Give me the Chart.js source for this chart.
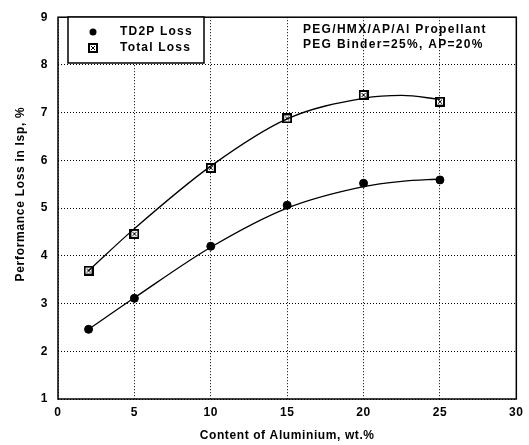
<!DOCTYPE html>
<html>
<head>
<meta charset="utf-8">
<script src="https://cdn.jsdelivr.net/npm/chart.js@4.4.1/dist/chart.umd.min.js"></script>
<style>
html,body{margin:0;padding:0;background:#fff;}
#wrap{width:529px;height:445px;position:relative;}
</style>
</head>
<body>
<div id="wrap"><canvas id="c" width="529" height="445"></canvas></div>
<script>
// Measured points
const aluminium = [2, 5, 10, 15, 20, 25];
const td2pLoss = [2.46, 3.11, 4.20, 5.06, 5.52, 5.59];
const totalLoss = [3.69, 4.46, 5.84, 6.88, 7.37, 7.23];
// Fitted curves
const fitX = [2, 5, 10, 15, 20, 22.5, 25];
const td2pFit = [2.46, 3.12, 4.18, 5.00, 5.45, 5.56, 5.61];
const totalFit = [3.69, 4.57, 5.88, 6.87, 7.30, 7.36, 7.28];
// Axis ticks
const xTicks = [0, 5, 10, 15, 20, 25, 30];
const yTicks = [1, 2, 3, 4, 5, 6, 7, 8, 9];
const seriesLabels = ['TD2P Loss', 'Total Loss'];
const noteLines = ['PEG/HMX/AP/Al Propellant', 'PEG Binder=25%, AP=20%'];
const xTitle = 'Content of Aluminium, wt.%';
const yTitle = 'Performance Loss in Isp, %';

const FONT = '"Liberation Sans", Arial, sans-serif';

function makeBoxMarker() {
  const s = 10;
  const cv = document.createElement('canvas');
  cv.width = s; cv.height = s;
  const g = cv.getContext('2d');
  g.fillStyle = '#fff';
  g.fillRect(0, 0, s, s);
  g.strokeStyle = '#000';
  g.lineWidth = 2;
  g.strokeRect(1, 1, s - 2, s - 2);
  g.lineWidth = 1;
  g.beginPath();
  g.moveTo(3, 3); g.lineTo(7, 7);
  g.moveTo(7, 3); g.lineTo(3, 7);
  g.stroke();
  return cv;
}
const boxMarker = makeBoxMarker();

const pts = (xs, ys) => xs.map((x, i) => ({x: x, y: ys[i]}));

const bgPlugin = {
  id: 'bg',
  beforeDraw(chart) {
    const ctx = chart.ctx;
    ctx.save();
    ctx.fillStyle = '#fff';
    ctx.fillRect(0, 0, chart.width, chart.height);
    ctx.restore();
    ctx.letterSpacing = '0.6px';
  }
};

const framePlugin = {
  id: 'frame',
  afterDraw(chart) {
    const ctx = chart.ctx;
    const a = chart.chartArea;
    ctx.save();
    ctx.strokeStyle = '#000';
    ctx.lineWidth = 1.5;
    ctx.strokeRect(a.left, a.top, a.right - a.left, a.bottom - a.top);
    // legend box
    const lx = 68, ly = 17, lw = 136, lh = 46;
    ctx.fillStyle = '#fff';
    ctx.fillRect(lx, ly, lw, lh);
    ctx.lineWidth = 1.5;
    ctx.strokeRect(lx, ly, lw, lh);
    // markers
    ctx.fillStyle = '#000';
    ctx.beginPath();
    ctx.arc(93, 32, 3.5, 0, Math.PI * 2);
    ctx.fill();
    ctx.drawImage(boxMarker, 88, 43, 10, 10);
    ctx.font = 'bold 12px ' + FONT;
    ctx.letterSpacing = '1.2px';
    ctx.textBaseline = 'middle';
    ctx.textAlign = 'left';
    ctx.fillText(chart.data.datasets[2].label, 120, 32);
    ctx.fillText(chart.data.datasets[3].label, 120, 48);
    // note
    ctx.letterSpacing = '1.3px';
    ctx.fillText(noteLines[0], 303, 30);
    ctx.fillText(noteLines[1], 303, 45);
    // y title
    ctx.letterSpacing = '0.7px';
    ctx.font = 'bold 12px ' + FONT;
    ctx.textAlign = 'center';
    ctx.translate(21, 194);
    ctx.rotate(-Math.PI / 2);
    ctx.fillText(yTitle, 0, 0);
    ctx.restore();
  }
};

new Chart(document.getElementById('c'), {
  type: 'scatter',
  data: {
    datasets: [
      {label: 'TD2P fit', data: pts(fitX, td2pFit), showLine: true, borderColor: '#000', borderWidth: 1.3, pointRadius: 0, cubicInterpolationMode: 'monotone', fill: false},
      {label: 'Total fit', data: pts(fitX, totalFit), showLine: true, borderColor: '#000', borderWidth: 1.3, pointRadius: 0, cubicInterpolationMode: 'monotone', fill: false},
      {label: seriesLabels[0], data: pts(aluminium, td2pLoss), pointStyle: 'circle', pointRadius: 4, backgroundColor: '#000', borderColor: '#000', borderWidth: 1, showLine: false},
      {label: seriesLabels[1], data: pts(aluminium, totalLoss), pointStyle: boxMarker, pointRadius: 5, showLine: false}
    ]
  },
  options: {
    responsive: false,
    animation: false,
    devicePixelRatio: 1,
    layout: {padding: {left: 0, right: 10, top: 17, bottom: 0}},
    plugins: {legend: {display: false}, tooltip: {enabled: false}},
    scales: {
      x: {
        type: 'linear', min: 0, max: 30,
        afterBuildTicks(s) { s.ticks = xTicks.map(v => ({value: v})); },
        afterFit(s) { s.height = 46; },
        ticks: {color: '#000', padding: 6, font: {family: FONT, size: 12, weight: 'bold'}},
        grid: {color: '#000', lineWidth: 1, drawTicks: false},
        border: {display: false, dash: [1, 2]},
        title: {display: true, text: xTitle, color: '#000', font: {family: FONT, size: 12, weight: 'bold'}, padding: {top: 0, bottom: 2}}
      },
      y: {
        type: 'linear', min: 1, max: 9,
        afterBuildTicks(s) { s.ticks = yTicks.map(v => ({value: v})); },
        afterFit(s) { s.width = 58; },
        ticks: {color: '#000', padding: 10, font: {family: FONT, size: 12, weight: 'bold'}},
        grid: {color: '#000', lineWidth: 1, drawTicks: false},
        border: {display: false, dash: [1, 2]},
        title: {display: false, text: yTitle}
      }
    }
  },
  plugins: [bgPlugin, framePlugin]
});
</script>
</body>
</html>
